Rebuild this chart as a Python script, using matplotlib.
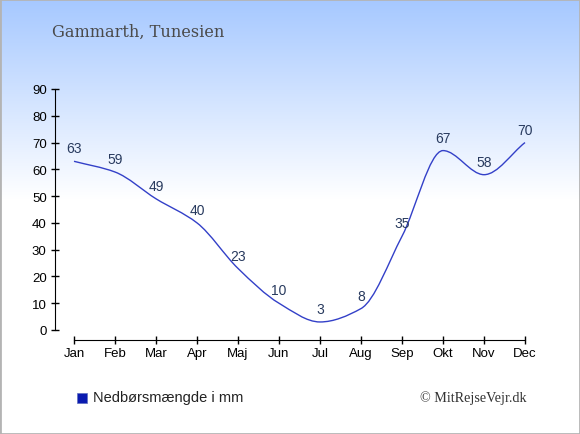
import numpy as np
import matplotlib
matplotlib.use("Agg")
from matplotlib import pyplot as plt
from matplotlib.path import Path
from matplotlib.patches import PathPatch, Rectangle

months = ['Jan', 'Feb', 'Mar', 'Apr', 'Maj', 'Jun', 'Jul', 'Aug', 'Sep', 'Okt', 'Nov', 'Dec']
rain = [63, 59, 49, 40, 23, 10, 3, 8, 35, 67, 58, 70]
yticks = [0, 10, 20, 30, 40, 50, 60, 70, 80, 90]

title = 'Gammarth, Tunesien'
legend_label = 'Nedbørsmængde i mm'
credit = '© MitRejseVejr.dk'


def monotone_path(x, y):
    # monotone cubic (Fritsch-Carlson) as bezier segments
    x = np.asarray(x, float)
    y = np.asarray(y, float)
    h = np.diff(x)
    d = np.diff(y) / h
    m = np.zeros_like(y)
    m[0] = d[0]
    m[-1] = d[-1]
    for i in range(1, len(y) - 1):
        if d[i - 1] * d[i] <= 0:
            m[i] = 0
        else:
            m[i] = 2 / (1 / d[i - 1] + 1 / d[i])
    verts = [(x[0], y[0])]
    codes = [Path.MOVETO]
    for i in range(len(h)):
        verts += [(x[i] + h[i] / 3, y[i] + m[i] * h[i] / 3),
                  (x[i + 1] - h[i] / 3, y[i + 1] - m[i + 1] * h[i] / 3),
                  (x[i + 1], y[i + 1])]
        codes += [Path.CURVE4] * 3
    return Path(verts, codes)


fig = plt.figure(figsize=(5.8, 4.35), dpi=100)

# background gradient
bg = fig.add_axes([0, 0, 1, 1], zorder=-10)
grad = np.ones((435, 1, 3))
t = np.linspace(0, 1, 435)[:, None]
top = np.array([0.65, 0.785, 1.0])
mix = np.clip(t / 0.46, 0, 1)
grad[:, 0, :] = top * (1 - mix) + np.array([1, 1, 1]) * mix
bg.imshow(grad, aspect='auto', extent=[0, 1, 0, 1], origin='upper')
bg.add_patch(Rectangle((0, 0), 1, 1, transform=bg.transAxes, fill=False,
                       edgecolor='#b4b4b4', linewidth=2))
bg.set_xlim(0, 1)
bg.set_ylim(0, 1)
bg.axis('off')

W, H = 580, 435
left, right, top_px, bottom_px = 55, 527, 90, 341
ax = fig.add_axes([left / W, 1 - bottom_px / H, (right - left) / W, (bottom_px - top_px) / H])
ax.patch.set_alpha(0)

px_month = (525 - 74) / 11
px_unit = (331 - 90) / 90
ax.set_xlim(-(74 - left) / px_month, 11 + (right - 525) / px_month)
ax.set_ylim(-(bottom_px - 331) / px_unit, 90)

x = np.arange(len(months))
ax.add_patch(PathPatch(monotone_path(x, rain), fill=False, edgecolor='#3340c8', linewidth=1))
for xi, v in zip(x, rain):
    ax.text(xi, v + 2.2, str(v), ha='center', va='bottom', fontsize=10,
            color='#283a5e', family='Liberation Sans')

ax.set_xticks(x)
ax.set_xticklabels(months)
ax.set_yticks(yticks)
for s in ['top', 'right']:
    ax.spines[s].set_visible(False)
ax.spines['left'].set_bounds(0, 90)
ax.spines['bottom'].set_bounds(0, 11)
ax.tick_params(direction='inout', length=6, width=1, labelsize=9.5, pad=3)
ax.tick_params(axis='x', pad=2)
for lab in ax.get_xticklabels() + ax.get_yticklabels():
    lab.set_family('Liberation Sans')

fig.text(52 / W, 1 - 32 / H, title, fontsize=11.6, family='DejaVu Serif',
         color='#4a4a4a', va='center', ha='left')

fig.patches.append(Rectangle((77 / W, 1 - 404 / H), 10 / W, 10 / H, transform=fig.transFigure,
                             facecolor='#0a1ab0', edgecolor='#6070c0', linewidth=0.5))
fig.text(93 / W, 1 - 398 / H, legend_label, fontsize=10.5, family='Liberation Sans',
         color='#222222', va='center', ha='left')
fig.text(527 / W, 1 - 398 / H, credit, fontsize=10.2, family='Liberation Serif',
         color='#333333', va='center', ha='right')

fig.savefig('out.png', dpi=100)
